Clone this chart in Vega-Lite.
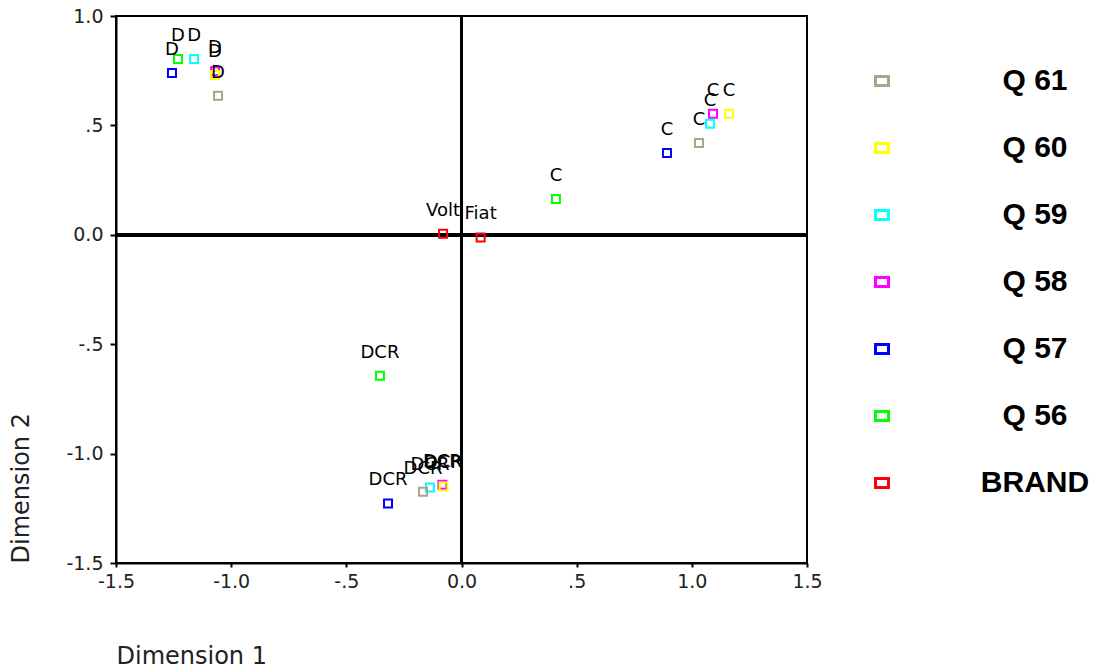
{
  "$schema": "https://vega.github.io/schema/vega-lite/v6.json",
  "width": 691,
  "height": 547,
  "autosize": "none",
  "padding": {"left": 116, "top": 16, "right": 287, "bottom": 105},
  "background": "white",
  "config": {
    "view": {"stroke": "black", "strokeWidth": 2},
    "axis": {
      "domainColor": "black", "domainWidth": 2, "tickColor": "black", "tickWidth": 2,
      "grid": false, "labelFont": "DejaVu Sans", "labelFontSize": 19, "labelColor": "#222",
      "titleFont": "DejaVu Sans", "titleFontSize": 24, "titleFontWeight": "normal", "titleColor": "#222",
      "labelFlush": false
    }
  },
  "data": {"values": [
    {"series": "Q 56", "label": "D", "x": -1.231, "y": 0.804},
    {"series": "Q 56", "label": "C", "x": 0.41, "y": 0.164},
    {"series": "Q 56", "label": "DCR", "x": -0.354, "y": -0.644},
    {"series": "Q 57", "label": "D", "x": -1.257, "y": 0.74},
    {"series": "Q 57", "label": "C", "x": 0.892, "y": 0.374},
    {"series": "Q 57", "label": "DCR", "x": -0.319, "y": -1.228},
    {"series": "Q 58", "label": "D", "x": -1.07, "y": 0.748},
    {"series": "Q 58", "label": "C", "x": 1.092, "y": 0.553},
    {"series": "Q 58", "label": "DCR", "x": -0.083, "y": -1.142},
    {"series": "Q 59", "label": "D", "x": -1.161, "y": 0.804},
    {"series": "Q 59", "label": "C", "x": 1.079, "y": 0.507},
    {"series": "Q 59", "label": "DCR", "x": -0.137, "y": -1.155},
    {"series": "Q 60", "label": "D", "x": -1.07, "y": 0.73},
    {"series": "Q 60", "label": "C", "x": 1.162, "y": 0.553},
    {"series": "Q 60", "label": "DCR", "x": -0.078, "y": -1.15},
    {"series": "Q 61", "label": "D", "x": -1.057, "y": 0.635},
    {"series": "Q 61", "label": "C", "x": 1.031, "y": 0.42},
    {"series": "Q 61", "label": "DCR", "x": -0.167, "y": -1.174},
    {"series": "BRAND", "label": "Volt", "x": -0.08, "y": 0.005},
    {"series": "BRAND", "label": "Fiat", "x": 0.083, "y": -0.012}
  ]},
  "layer": [
    {
      "mark": {"type": "rule", "color": "black", "strokeWidth": 3},
      "encoding": {"y": {"datum": 0, "type": "quantitative", "title": "Dimension 2"}}
    },
    {
      "mark": {"type": "rule", "color": "black", "strokeWidth": 2},
      "encoding": {"x": {"datum": 0, "type": "quantitative", "title": "Dimension 1"}}
    },
    {
      "mark": {"type": "point", "shape": "square", "filled": false, "strokeWidth": 2, "size": 64, "opacity": 1},
      "encoding": {
        "x": {
          "field": "x", "type": "quantitative", "title": "Dimension 1",
          "scale": {"domain": [-1.5, 1.5], "nice": false, "zero": false},
          "axis": {
            "values": [-1.5, -1, -0.5, 0, 0.5, 1, 1.5], "tickSize": 4, "labelPadding": 5,
            "labelExpr": "datum.value == 0 ? '0.0' : ((datum.value < 0 ? '-' : '') + (abs(datum.value) == 0.5 ? '.5' : format(abs(datum.value), '.1f')))",
            "titleAnchor": "start", "titleAlign": "left", "titleX": 0, "titleY": 100, "titleBaseline": "alphabetic"
          }
        },
        "y": {
          "field": "y", "type": "quantitative", "title": "Dimension 2",
          "scale": {"domain": [-1.5, 1.0], "nice": false, "zero": false},
          "axis": {
            "values": [-1.5, -1, -0.5, 0, 0.5, 1], "tickSize": 6, "labelPadding": 7,
            "labelExpr": "datum.value == 0 ? '0.0' : ((datum.value < 0 ? '-' : '') + (abs(datum.value) == 0.5 ? '.5' : format(abs(datum.value), '.1f')))",
            "titleAngle": -90, "titleAnchor": "start", "titleAlign": "left", "titleX": -88, "titleY": 547, "titleBaseline": "alphabetic"
          }
        },
        "color": {
          "field": "series", "type": "nominal",
          "scale": {
            "domain": ["Q 61", "Q 60", "Q 59", "Q 58", "Q 57", "Q 56", "BRAND"],
            "range": ["#a9a48c", "#ffff00", "#00ffff", "#ff00ff", "#0000ff", "#00ff00", "#ff0000"]
          },
          "legend": {
            "orient": "none", "legendX": 751, "legendY": 50, "title": null,
            "symbolType": "M-1,-0.7H1V0.7H-1Z", "symbolSize": 169, "symbolStrokeWidth": 3,
            "labelFont": "Liberation Sans", "labelFontWeight": "bold", "labelFontSize": 30, "labelColor": "black",
            "labelAlign": "center", "labelOffset": 138, "rowPadding": 37, "padding": 0, "labelLimit": 300
          }
        }
      }
    },
    {
      "mark": {"type": "text", "fontSize": 18, "font": "DejaVu Sans", "color": "black", "baseline": "middle", "dy": -23},
      "encoding": {
        "x": {"field": "x", "type": "quantitative", "title": "Dimension 1"},
        "y": {"field": "y", "type": "quantitative", "title": "Dimension 2"},
        "text": {"field": "label"}
      }
    }
  ]
}
